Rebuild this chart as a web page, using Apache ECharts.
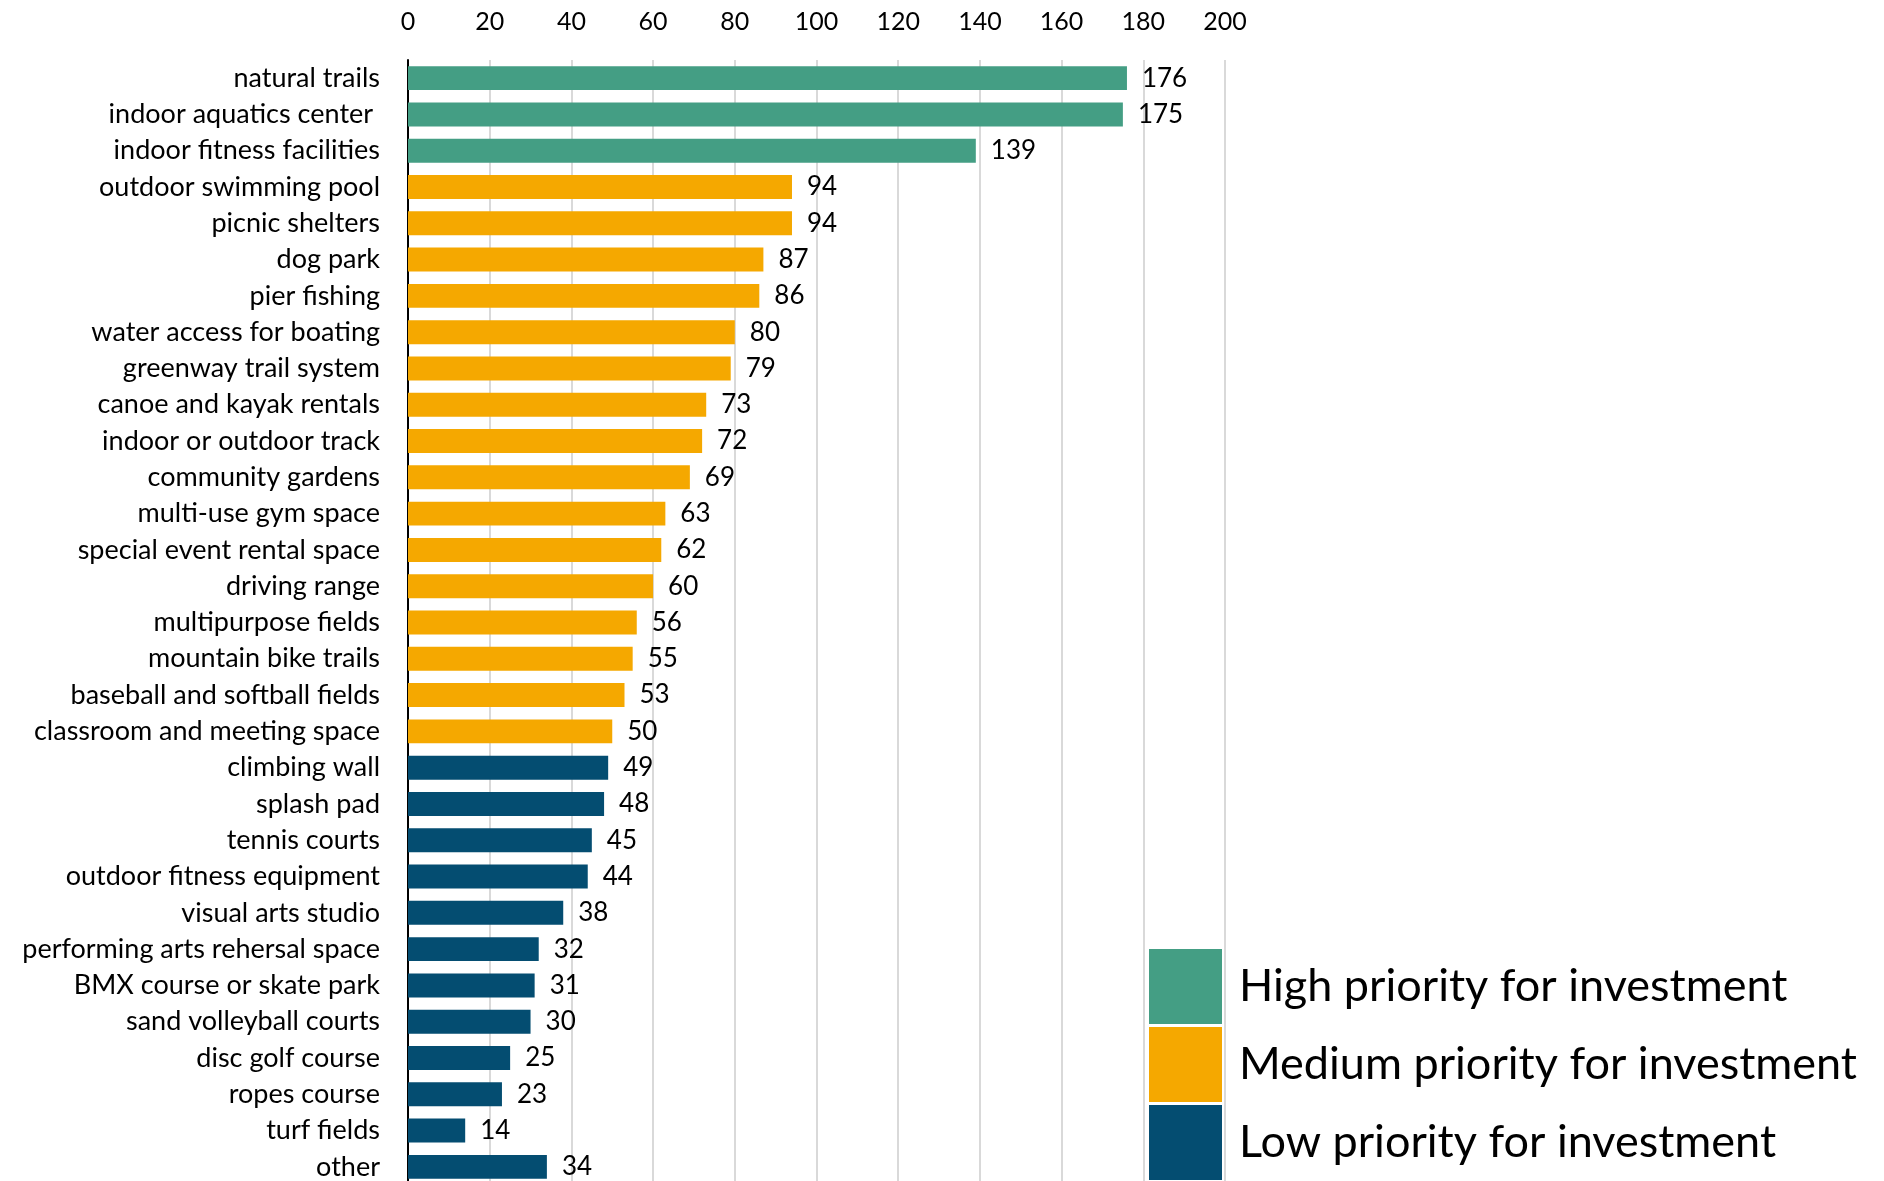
<!DOCTYPE html>
<html>
<head>
<meta charset="utf-8">
<script src="https://cdn.jsdelivr.net/npm/echarts@6/dist/echarts.min.js"></script>
<style>
  html, body { margin: 0; padding: 0; background: #fff; overflow: hidden; height: 1181px; }
  /* canvas runs a few pixels past the window bottom so the last bar sits on the edge */
  #chart { width: 1884px; height: 1185px; }
</style>
</head>
<body>
<div id="chart"></div>
<script>
// Amenities ranked by number of responses, top to bottom
const categories = [
  'natural trails', 'indoor aquatics center ', 'indoor fitness facilities',
  'outdoor swimming pool', 'picnic shelters', 'dog park', 'pier fishing',
  'water access for boating', 'greenway trail system', 'canoe and kayak rentals',
  'indoor or outdoor track', 'community gardens', 'multi-use gym space',
  'special event rental space', 'driving range', 'multipurpose fields',
  'mountain bike trails', 'baseball and softball fields', 'classroom and meeting space',
  'climbing wall', 'splash pad', 'tennis courts', 'outdoor fitness equipment',
  'visual arts studio', 'performing arts rehersal space', 'BMX course or skate park',
  'sand volleyball courts', 'disc golf course', 'ropes course', 'turf fields', 'other'
];
const values = [
  176, 175, 139, 94, 94, 87, 86, 80, 79, 73, 72, 69, 63, 62, 60, 56, 55, 53, 50,
  49, 48, 45, 44, 38, 32, 31, 30, 25, 23, 14, 34
];
// priority tier for each category: 0 high, 1 medium, 2 low
const tiers = [
  0, 0, 0, 1, 1, 1, 1, 1, 1, 1, 1, 1, 1, 1, 1, 1, 1, 1, 1,
  2, 2, 2, 2, 2, 2, 2, 2, 2, 2, 2, 2
];
const tierNames = ['High priority for investment', 'Medium priority for investment', 'Low priority for investment'];
const tierColors = ['#449e84', '#f5a800', '#044d71'];
const xTicks = [0, 20, 40, 60, 80, 100, 120, 140, 160, 180, 200];

const FONT = 'Lato';

const series = tierNames.map((name, t) => ({
  name: name,
  type: 'bar',
  barGap: '-100%',
  barCategoryGap: '34%',
  itemStyle: { color: tierColors[t] },
  label: {
    show: true,
    position: 'right',
    distance: 15,
    color: '#000',
    fontFamily: FONT,
    fontSize: 26
  },
  data: values.map((v, i) => (tiers[i] === t ? v : '-'))
}));

const chart = echarts.init(document.getElementById('chart'), null, { renderer: 'canvas' });
chart.setOption({
  animation: false,
  backgroundColor: '#fff',
  grid: { left: 408, right: 659, top: 60, bottom: 0, containLabel: false },
  xAxis: {
    type: 'value',
    position: 'top',
    min: xTicks[0],
    max: xTicks[xTicks.length - 1],
    interval: 20,
    axisLine: { show: false },
    axisTick: { show: false },
    axisLabel: { color: '#000', fontFamily: FONT, fontSize: 25, margin: 26 },
    splitLine: { show: true, lineStyle: { color: '#d9d9d9', width: 2 } }
  },
  yAxis: {
    type: 'category',
    inverse: true,
    data: categories,
    axisLine: { show: true, lineStyle: { color: '#000', width: 2 } },
    axisTick: { show: false },
    axisLabel: { color: '#000', fontFamily: FONT, fontSize: 27, margin: 28 }
  },
  legend: {
    orient: 'vertical',
    left: 1149,
    top: 949,
    height: 240,
    padding: 0,
    itemWidth: 73,
    itemHeight: 75,
    itemGap: 3,
    icon: 'rect',
    selectedMode: false,
    textStyle: { color: '#000', fontFamily: FONT, fontSize: 45, padding: [0, 0, 0, 12] },
    data: tierNames
  },
  series: series
});
</script>
</body>
</html>
